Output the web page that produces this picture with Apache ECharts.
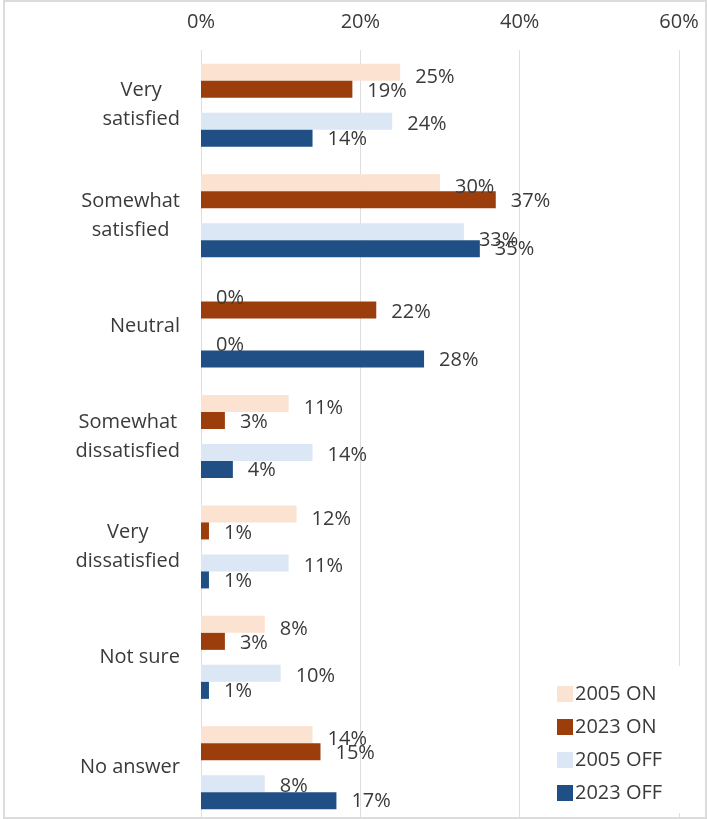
<!DOCTYPE html>
<html>
<head>
<meta charset="utf-8">
<script src="https://cdn.jsdelivr.net/npm/echarts@6/dist/echarts.min.js"></script>
<style>
  html, body { margin: 0; padding: 0; background: #ffffff; }
  #chart { width: 708px; height: 819px; }
</style>
</head>
<body>
<div id="chart"></div>
<script>
// Satisfaction answers, 2005 vs 2023, ON and OFF groups (percent of respondents)
const categories = [
  'Very\nsatisfied',
  'Somewhat\nsatisfied',
  'Neutral',
  'Somewhat\ndissatisfied',
  'Very\ndissatisfied',
  'Not sure',
  'No answer'
];
const on2005  = [25, 30, 0, 11, 12, 8, 14];
const on2023  = [19, 37, 22, 3, 1, 3, 15];
const off2005 = [24, 33, 0, 14, 11, 10, 8];
const off2023 = [14, 35, 28, 4, 1, 1, 17];
const seriesNames = ['2005 ON', '2023 ON', '2005 OFF', '2023 OFF'];
const xTicks = { min: 0, max: 60, step: 20 };

const FONT = '"Open Sans", "Noto Sans", sans-serif';
const TEXT = '#3a3a3a';
const colors = ['#fbe2d1', '#9c3d0c', '#dbe7f4', '#1f4f84'];

function valueLabel(dy) {
  return {
    show: true,
    position: 'right',
    distance: 15,
    offset: [0, dy],
    formatter: '{c}%',
    fontFamily: FONT,
    fontSize: 20,
    color: TEXT
  };
}

function barSeries(name, data, color, dy) {
  return {
    name: name,
    type: 'bar',
    data: data,
    barWidth: 17,
    itemStyle: { color: color },
    label: valueLabel(dy),
    emphasis: { disabled: true },
    z: 2
  };
}

// 2005 OFF "33%" label sits a little lower, just above the 35% label
const off2005Data = off2005.map((v, i) =>
  i === 1 ? { value: v, label: { offset: [0, 9] } } : v
);

const chart = echarts.init(document.getElementById('chart'), null, { renderer: 'canvas' });

chart.setOption({
  animation: false,
  backgroundColor: '#ffffff',
  grid: {
    left: 201,
    right: 29,
    top: 50,
    bottom: -4,
    outerBoundsMode: 'none',
    containLabel: false
  },
  xAxis: {
    type: 'value',
    position: 'top',
    min: xTicks.min,
    max: xTicks.max,
    interval: xTicks.step,
    axisLine: { show: false },
    axisTick: { show: false },
    axisLabel: {
      formatter: '{value}%',
      fontFamily: FONT,
      fontSize: 20,
      color: TEXT,
      margin: 18
    },
    splitLine: { show: true, lineStyle: { color: '#dedede', width: 1 } }
  },
  yAxis: {
    type: 'category',
    inverse: true,
    data: categories,
    axisLine: { show: false },
    axisTick: { show: false },
    axisLabel: {
      margin: 21,
      align: 'right',
      formatter: function (v) {
        return v.split('\n').map(s => '{c|' + s + '}').join('\n');
      },
      rich: {
        c: {
          align: 'center',
          fontFamily: FONT,
          fontSize: 20,
          lineHeight: 29,
          color: TEXT
        }
      }
    }
  },
  legend: {
    data: seriesNames,
    orient: 'vertical',
    left: 527,
    top: 666,
    height: 125,
    padding: [18, 40, 10, 30],
    backgroundColor: '#ffffff',
    itemWidth: 16,
    itemHeight: 16,
    itemGap: 13,
    icon: 'rect',
    selectedMode: false,
    textStyle: {
      fontFamily: FONT,
      fontSize: 20,
      color: TEXT,
      padding: [0, 0, 0, -3]
    }
  },
  graphic: [{
    type: 'rect',
    shape: { x: 4, y: 1, width: 702, height: 817 },
    style: { fill: 'none', stroke: '#dcdcdc', lineWidth: 2 },
    silent: true,
    z: 100
  }],
  series: [
    barSeries(seriesNames[0], on2005, colors[0], 5),
    barSeries(seriesNames[1], on2023, colors[1], 2),
    // empty spacer column separating the ON pair from the OFF pair
    {
      name: 'spacer',
      type: 'bar',
      data: [],
      barWidth: 15,
      silent: true
    },
    barSeries(seriesNames[2], off2005Data, colors[2], 3),
    barSeries(seriesNames[3], off2023, colors[3], 1)
  ],
  barGap: 0
});
</script>
</body>
</html>
